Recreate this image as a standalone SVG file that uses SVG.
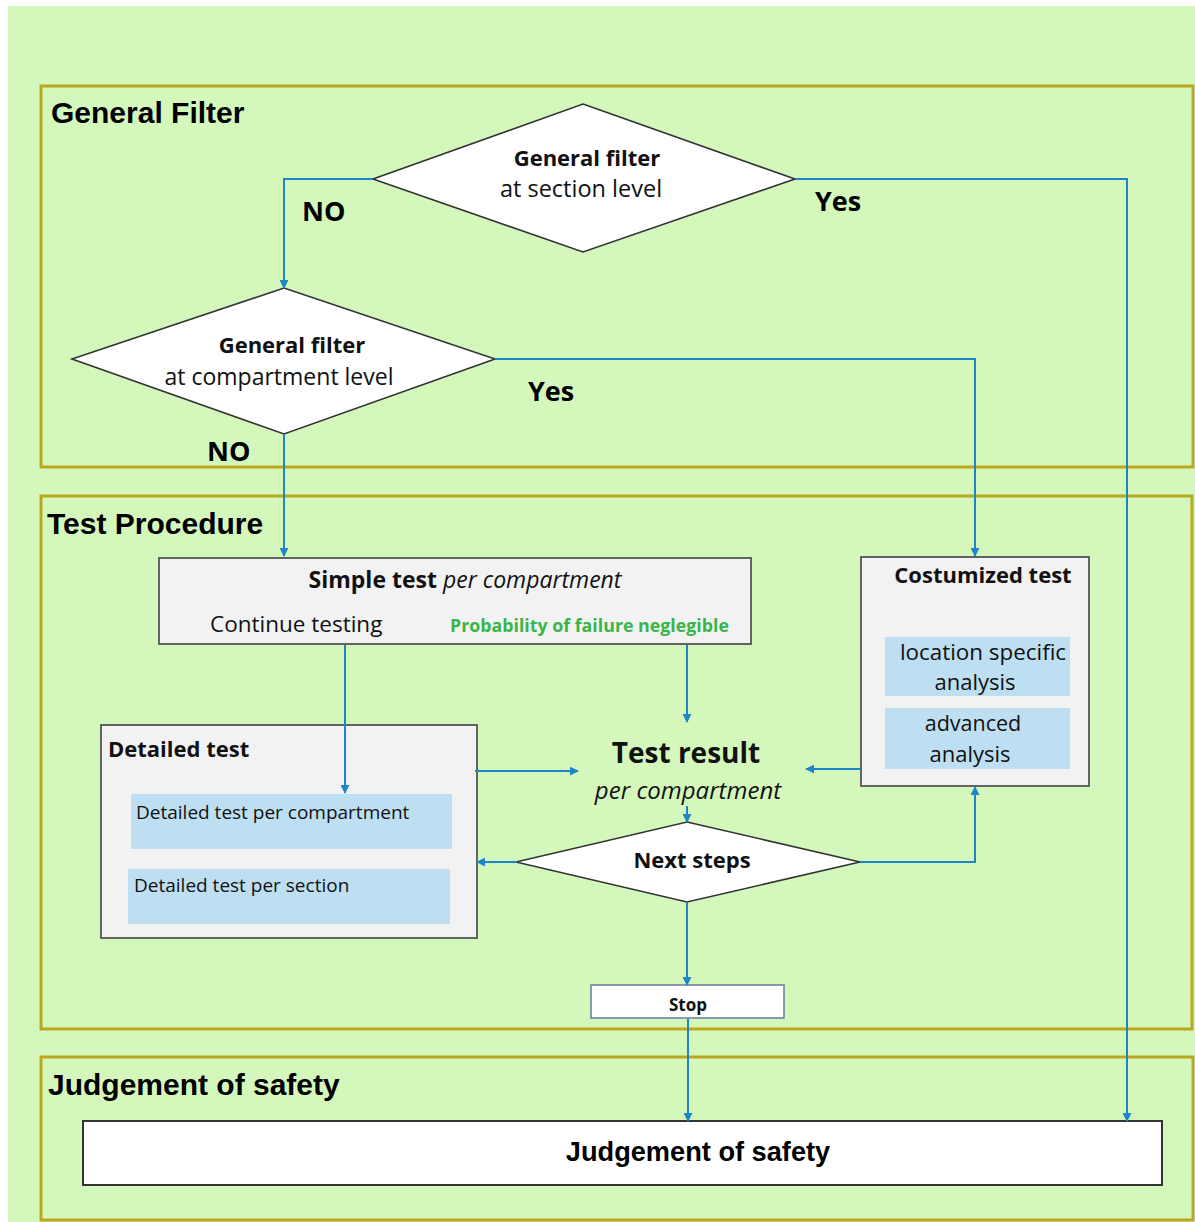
<svg xmlns="http://www.w3.org/2000/svg" width="1195" height="1222" viewBox="0 0 1195 1222">
<defs>
<marker id="arr" viewBox="0 0 10 10" refX="9" refY="5" markerWidth="4.5" markerHeight="4.5" orient="auto" markerUnits="strokeWidth">
<path d="M0,0 L10,5 L0,10 z" fill="#1E86C8"/>
</marker>
<style>
.panel{fill:none;stroke:#BCA61E;stroke-width:3}
.ptitle{font-family:"Liberation Sans",Arial,sans-serif;font-weight:bold;font-size:30px;fill:#000}
.dia{fill:#fff;stroke:#333;stroke-width:1.6}
.box{fill:#F2F2F2;stroke:#555;stroke-width:1.8}
.sub{fill:#BDDFF1}
.t{font-family:"Open Sans","Liberation Sans",sans-serif;fill:#111}
.b{font-weight:bold}
.i{font-style:italic}
.lbl{font-family:"Open Sans","Liberation Sans",sans-serif;font-weight:bold;font-size:27px;fill:#000}
.c{fill:none;stroke:#1E86C8;stroke-width:2}
.ca{fill:none;stroke:#1E86C8;stroke-width:2;marker-end:url(#arr)}
</style>
</defs>
<rect x="0" y="0" width="1195" height="1222" fill="#fff"/>
<rect x="8" y="6" width="1187" height="1216" fill="#D4F8BC"/>

<g id="panel-general-filter">
<rect class="panel" x="41" y="86" width="1152" height="381"/>
<text class="ptitle" x="51" y="123">General Filter</text>
</g>
<g id="panel-test-procedure">
<rect class="panel" x="41" y="496" width="1151" height="533"/>
<text class="ptitle" x="47" y="534">Test Procedure</text>
</g>
<g id="panel-judgement">
<rect class="panel" x="41" y="1057" width="1152" height="163"/>
<text class="ptitle" x="48" y="1095">Judgement of safety</text>
</g>

<g id="node-filter-section">
<polygon class="dia" points="583,104 795,179 583,252 373,179"/>
<text class="t b" x="587" y="166" font-size="22" text-anchor="middle">General filter</text>
<text class="t" x="581" y="197" font-size="23.5" text-anchor="middle">at section level</text>
</g>

<g id="node-filter-compartment">
<polygon class="dia" points="284,288 495,359 284,434 72,359"/>
<text class="t b" x="292" y="353" font-size="22" text-anchor="middle">General filter</text>
<text class="t" x="279" y="385" font-size="23" text-anchor="middle">at compartment level</text>
</g>

<g id="node-simple-test">
<rect class="box" x="159" y="558" width="592" height="86"/>
<text class="t" x="465" y="588" font-size="23" text-anchor="middle"><tspan class="b">Simple test</tspan> <tspan class="i">per compartment</tspan></text>
<text class="t" x="210" y="632" font-size="22.5">Continue testing</text>
<text class="t b" x="450" y="632" font-size="17.8" style="fill:#3BB54A">Probability of failure neglegible</text>
</g>

<g id="node-detailed-test">
<rect class="box" x="101" y="725" width="376" height="213"/>
<text class="t b" x="108" y="757" font-size="22">Detailed test</text>
<rect class="sub" x="131" y="794" width="321" height="55"/>
<text class="t" x="136" y="819" font-size="19">Detailed test per compartment</text>
<rect class="sub" x="128" y="869" width="322" height="55"/>
<text class="t" x="134" y="892" font-size="19">Detailed test per section</text>
</g>

<g id="node-test-result">
<text class="t b" x="686" y="763" font-size="28" text-anchor="middle">Test result</text>
<text class="t i" x="688" y="799" font-size="24" text-anchor="middle">per compartment</text>
</g>

<g id="node-customized-test">
<rect class="box" x="861" y="557" width="228" height="229"/>
<text class="t b" x="983" y="583" font-size="22" text-anchor="middle">Costumized test</text>
<rect class="sub" x="885" y="637" width="185" height="59"/>
<text class="t" x="983" y="660" font-size="22.4" text-anchor="middle">location specific</text>
<text class="t" x="975" y="690" font-size="22" text-anchor="middle">analysis</text>
<rect class="sub" x="885" y="708" width="185" height="61"/>
<text class="t" x="973" y="731" font-size="21.5" text-anchor="middle">advanced</text>
<text class="t" x="970" y="762" font-size="22" text-anchor="middle">analysis</text>
</g>

<g id="node-next-steps">
<polygon class="dia" points="687,822 860,862 687,902 516,862"/>
<text class="t b" x="692" y="868" font-size="22" text-anchor="middle">Next steps</text>
</g>

<g id="node-stop">
<rect x="591" y="985" width="193" height="33" fill="#fff" stroke="#6A7A99" stroke-width="1.5"/>
<text class="t b" x="688" y="1011" font-size="17" text-anchor="middle">Stop</text>
</g>

<g id="node-judgement">
<rect x="83" y="1121" width="1079" height="64" fill="#fff" stroke="#333" stroke-width="2"/>
<text class="ptitle" x="698" y="1161" text-anchor="middle" style="font-size:27.2px">Judgement of safety</text>
</g>

<g id="connectors">
<polyline class="ca" points="373,179 284,179 284,288"/>
<polyline class="ca" points="795,179 1127,179 1127,1121"/>
<polyline class="ca" points="495,359 975,359 975,556"/>
<polyline class="ca" points="284,434 284,556"/>
<polyline class="ca" points="687,645 687,722"/>
<polyline class="ca" points="345,645 345,793"/>
<polyline class="ca" points="475,771 578,771"/>
<polyline class="ca" points="861,769 806,769"/>
<polyline class="ca" points="687,806 687,822"/>
<polyline class="ca" points="517,862 477,862"/>
<polyline class="ca" points="860,862 975,862 975,787"/>
<polyline class="ca" points="687,903 687,985"/>
<polyline class="ca" points="688,1019 688,1121"/>
<text class="lbl" x="302" y="221">NO</text>
<text class="lbl" x="815" y="211">Yes</text>
<text class="lbl" x="528" y="401">Yes</text>
<text class="lbl" x="207" y="461">NO</text>
</g>
</svg>
